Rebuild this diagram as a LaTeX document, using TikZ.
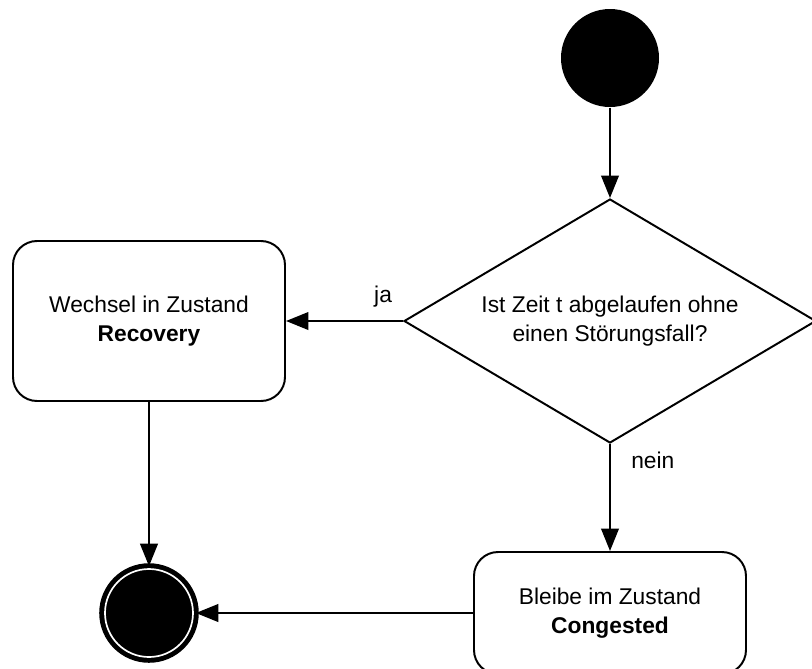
\documentclass[tikz,border=0pt]{standalone}
\usepackage{fontspec}
\setmainfont{Liberation Sans}
\usetikzlibrary{arrows.meta, positioning, shapes.geometric}

\begin{document}
\begin{tikzpicture}[thick, node distance=2cm, >={Triangle[length=16pt, width=12.5pt]}, font=\fontsize{16.2}{21}\selectfont]

	% Define block styles
	\tikzstyle{statebox} = [rectangle, draw, rounded corners=0.6cm, line width=1.4pt, minimum width=6.8cm, align=center]
	\tikzstyle{check} = [diamond, draw, aspect=1.69, line width=1.4pt, minimum width=10.3cm, minimum height=6.1cm, inner sep=0pt, align=center]
	\tikzstyle{startdot} = [circle, fill=black, minimum size=2.45cm, inner sep=0pt]
	\tikzstyle{enddot} = [circle, draw, fill=black, line width=3.5pt, double=white, double distance=1.2pt, minimum size=2.2cm, inner sep=0pt, outer sep=2pt]
	\tikzstyle{flow} = [->, line width=1.6pt]

	\clip (-15.25,1.45) rectangle (5.05,-15.25);

	% Nodes
	\node[startdot] (start) at (0,0) {};
	\node[check, below of=start, node distance=6.575cm] (check) {Ist Zeit t abgelaufen ohne\\einen Störungsfall?};
	\node[statebox, minimum height=4cm, left of=check, node distance=11.525cm] (recovery) {Wechsel in Zustand\\\textbf{Recovery}};
	\node[statebox, minimum height=3.05cm, below of=check, node distance=7.3cm] (congested) {Bleibe im Zustand\\\textbf{Congested}};
	\node[enddot, below of=recovery, node distance=7.3cm] (finish) {};

	% Arrows
	\draw[flow] (start) -- (check);
	\draw[flow] (check) -- node[pos=0.17, above=6pt] {ja} (recovery);
	\draw[flow] (check) -- node[pos=0.15, right=11pt] {nein} (congested);
	\draw[flow] (recovery) -- (finish);
	\draw[flow] (congested) -- (finish);

\end{tikzpicture}
\end{document}
